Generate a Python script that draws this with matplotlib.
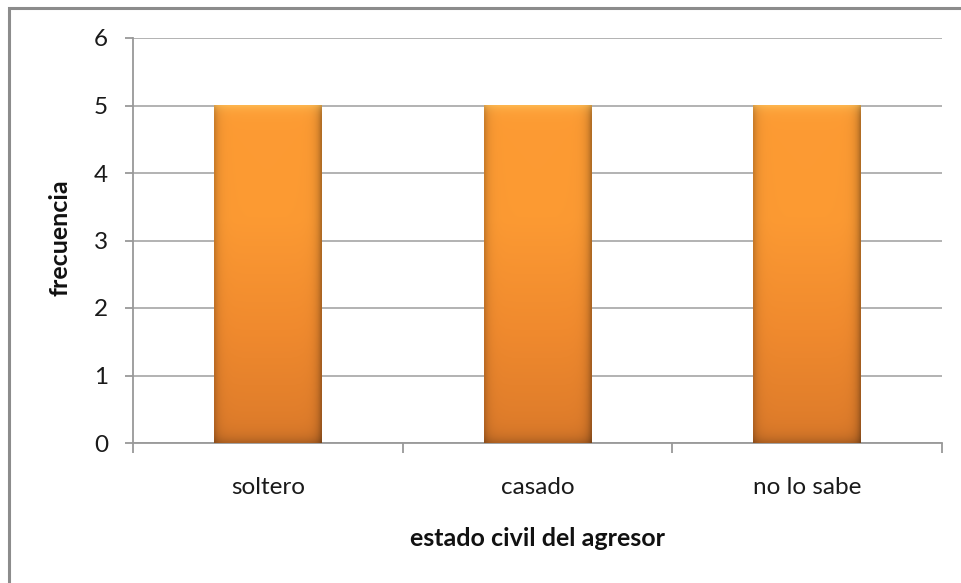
import matplotlib
matplotlib.use("Agg")
import matplotlib.pyplot as plt
import numpy as np
from matplotlib.patches import Rectangle
from matplotlib.colors import LinearSegmentedColormap

categories = ["soltero", "casado", "no lo sabe"]
values = [5, 5, 5]
yticks = [0, 1, 2, 3, 4, 5, 6]

plt.rcParams['font.family'] = ['Lato', 'DejaVu Sans']

fig = plt.figure(figsize=(9.61, 5.83), dpi=100)
ax = fig.add_axes([133/961, 1-443/583, (942-133)/961, (443-38)/583])

# figure border
fig.patches.append(Rectangle((9/961, -0.1), 1.2, 1-8/583+0.1, transform=fig.transFigure,
                             fill=False, edgecolor='#8c8c8c', linewidth=2.2))

x = np.arange(len(categories))
width = 0.4
bars = ax.bar(x, values, width=width, color='none', edgecolor='none', zorder=3)

cmap_v = LinearSegmentedColormap.from_list('v', ['#dc7a2a', '#f08a2e', '#fc9a33', '#fd9b33'])
for b in bars:
    x0, y0 = b.get_x(), b.get_y()
    w, h = b.get_width(), b.get_height()
    ny, nx = 200, 60
    vert = np.linspace(0, 1, ny)[:, None]
    base = cmap_v(vert)[:, :, :3] * np.ones((ny, nx, 1))
    xs = np.linspace(0, 1, nx)
    edge = np.clip(1 - 0.2 * np.exp(-xs / 0.04) - 0.3 * np.exp(-(1 - xs) / 0.04), 0, 1)
    img = base * edge[None, :, None]
    ys = np.linspace(0, 1, ny)
    top = 0.35 * np.exp(-(1 - ys) / 0.015)
    img = img + (np.array([1.0, 0.9, 0.5]) - img) * top[:, None, None]
    bot = 0.2 * np.exp(-ys / 0.02)
    img = img * (1 - bot[:, None, None])
    ax.imshow(np.clip(img, 0, 1), extent=(x0, x0 + w, y0, y0 + h), origin='lower',
              aspect='auto', zorder=3, interpolation='bilinear')

ax.set_xlim(-0.5, len(categories) - 0.5)
ax.set_ylim(0, 6)
ax.set_yticks(yticks)
ax.set_yticklabels([str(t) for t in yticks], fontsize=17.5, color='#1a1a1a')
ax.set_xticks(x)
ax.set_xticklabels(categories, fontsize=17.5, color='#1a1a1a')
ax.set_xticks(np.arange(len(categories) + 1) - 0.5, minor=True)
ax.tick_params(axis='x', which='major', length=0, pad=24.5)
ax.tick_params(axis='x', which='minor', length=7, color='#999999', width=1.3)
ax.tick_params(axis='y', length=6, color='#999999', width=1.3, pad=12)

ax.grid(axis='y', color='#a6a6a6', linewidth=1.2, zorder=0)
ax.set_axisbelow(True)
for s in ['top', 'right']:
    ax.spines[s].set_visible(False)
ax.spines['left'].set_color('#999999')
ax.spines['bottom'].set_color('#999999')
ax.spines['left'].set_linewidth(1.3)
ax.spines['bottom'].set_linewidth(1.3)

fig.text(537.5/961, 1-538/583, 'estado civil del agresor', fontsize=18, fontweight='bold',
         ha='center', va='center', color='#111111')
fig.text(60/961, 1-238/583, 'frecuencia', fontsize=18, fontweight='bold', rotation=90,
         ha='center', va='center', color='#111111')

fig.savefig('out.png', dpi=100)
